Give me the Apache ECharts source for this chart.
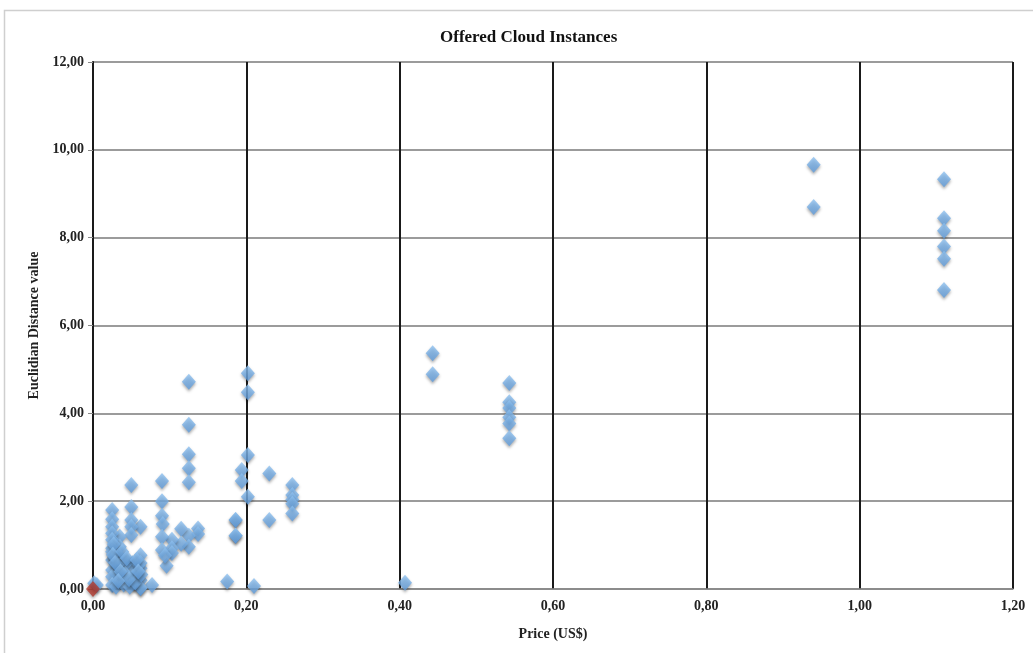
<!DOCTYPE html>
<html><head><meta charset="utf-8">
<script src="https://cdn.jsdelivr.net/npm/echarts@6/dist/echarts.min.js"></script>
<style>html,body{margin:0;padding:0;background:#fff}#c{width:1033px;height:653px}</style>
</head><body><div id="c"></div>
<script>
// Offered instances: price (US$) and Euclidian distance value
const priceX = [
  1.11,1.11,1.11,1.11,1.11,1.11,
  0.94,0.94,
  0.543,0.543,0.543,0.543,0.543,0.543,
  0.443,0.443,
  0.407,
  0.26,0.26,0.26,0.26,0.26,
  0.23,0.23,
  0.21,
  0.202,0.202,0.202,0.202,
  0.194,0.194,
  0.186,0.186,0.186,0.186,
  0.175,
  0.137,0.137,
  0.125,0.125,0.125,0.125,0.125,0.125,0.125,
  0.115,0.115,
  0.103,0.103,0.103,
  0.096,
  0.09,0.09,0.09,0.091,0.09,0.09,0.094,
  0.077,
  0.062,0.062,0.062,0.062,0.062,0.062,0.062,
  0.052,0.052,0.052,0.052,
  0.05,0.05,0.05,0.05,0.05,
  0.035,0.035,0.035,0.035,0.035,
  0.025,0.025,0.025,0.025,0.025,0.025,0.025,0.025,0.025,0.025,0.025,
  0.045,0.042,0.058,0.03,0.04,0.048,0.055,0.06,0.063,0.028,0.032,
  0.027,0.026,0.029,0.038,0.044,0.047,0.057,0.059,0.036,0.033,
  0.0016,0.005
];
const distanceY = [
  9.33,8.44,8.16,7.80,7.52,6.81,
  9.66,8.70,
  4.69,4.25,4.12,3.91,3.77,3.43,
  5.37,4.89,
  0.14,
  2.37,2.14,2.03,1.94,1.72,
  2.63,1.57,
  0.07,
  4.91,4.48,3.05,2.10,
  2.71,2.46,
  1.57,1.57,1.21,1.21,
  0.17,
  1.38,1.25,
  4.72,3.74,3.07,2.75,2.43,1.21,0.96,
  1.37,1.03,
  1.12,0.93,0.82,
  0.53,
  2.46,2.00,1.67,1.48,1.19,0.89,0.76,
  0.09,
  1.42,0.77,0.59,0.47,0.20,0.02,0.02,
  0.59,0.43,0.28,0.13,
  2.37,1.87,1.57,1.42,1.23,
  1.19,0.96,0.74,0.51,0.28,
  1.80,1.59,1.42,1.27,1.12,0.93,0.85,0.66,0.43,0.28,0.09,
  0.62,0.35,0.35,0.05,0.10,0.05,0.15,0.55,0.33,0.72,0.55,
  1.02,0.78,0.60,0.85,0.70,0.22,0.66,0.40,0.40,0.18,
  0.13,0.09
];
// Requested instance (red marker)
const requestX = [0.0];
const requestY = [0.0];
const xTicks = [0,0.2,0.4,0.6,0.8,1.0,1.2];
const yTicks = [0,2,4,6,8,10,12];

const fmt = v => v.toFixed(2).replace('.', ',');
const offered = priceX.map((x,i)=>[x, distanceY[i]]);
const requested = requestX.map((x,i)=>[x, requestY[i]]);
const serif = '"Liberation Serif","DejaVu Serif",serif';

const chart = echarts.init(document.getElementById('c'), null, {renderer:'canvas'});
chart.setOption({
  animation:false,
  backgroundColor:'#fff',
  title:{text:'Offered Cloud Instances', left:435, top:24,
    textStyle:{fontFamily:serif, fontWeight:'bold', fontSize:17, color:'#111'}},
  graphic:[{type:'rect', shape:{x:4.5,y:10.5,width:1100,height:700},
    style:{fill:'none', stroke:'#cfcfcf', lineWidth:1.5}, silent:true}],
  grid:{left:93, right:20, top:62, bottom:64},
  xAxis:{type:'value', min:xTicks[0], max:xTicks[xTicks.length-1], interval:0.2,
    name:'Price (US$)', nameLocation:'middle', nameGap:38,
    nameTextStyle:{fontFamily:serif, fontWeight:'bold', fontSize:14, color:'#222'},
    axisLine:{show:true, lineStyle:{color:'#888', width:1.5}},
    axisTick:{show:false},
    axisLabel:{formatter:fmt, fontFamily:serif, fontWeight:'bold', fontSize:14, color:'#222', margin:10},
    splitLine:{show:true, lineStyle:{color:'#1a1a1a', width:2}}},
  yAxis:{type:'value', min:yTicks[0], max:yTicks[yTicks.length-1], interval:2,
    name:'Euclidian Distance value', nameLocation:'middle', nameGap:51,
    nameTextStyle:{fontFamily:serif, fontWeight:'bold', fontSize:14, color:'#222'},
    axisLine:{show:true, onZero:false, lineStyle:{color:'#1a1a1a', width:2}},
    axisTick:{show:true, length:5, lineStyle:{color:'#888'}},
    axisLabel:{formatter:fmt, fontFamily:serif, fontWeight:'bold', fontSize:14, color:'#222', margin:9},
    splitLine:{show:true, lineStyle:{color:'#7a7a7a', width:1.5}}},
  series:[
    {type:'scatter', data:offered, symbol:'diamond', symbolSize:[14,16],
      itemStyle:{color:new echarts.graphic.LinearGradient(0,0,0,1,[
        {offset:0,color:'#90c2f0'},{offset:1,color:'#5f9cdc'}]),
        shadowBlur:3, shadowOffsetY:2, shadowColor:'rgba(0,0,0,0.4)'}},
    {type:'scatter', data:requested, symbol:'diamond', symbolSize:[14,16],
      itemStyle:{color:'#b23a2e', shadowBlur:3, shadowOffsetY:2, shadowColor:'rgba(0,0,0,0.4)'}}
  ]
});
</script></body></html>
